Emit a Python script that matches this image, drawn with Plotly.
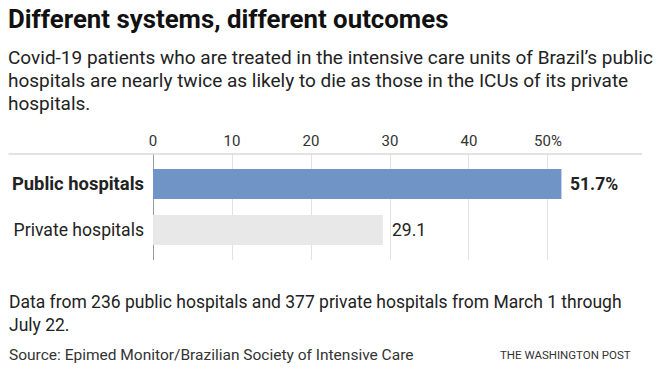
import plotly.graph_objects as go

categories = ["Public hospitals", "Private hospitals"]
values = [51.7, 29.1]
value_labels = ["<b>51.7%</b>", "29.1"]
tick_vals = [0, 10, 20, 30, 40, 50]
tick_text = ["0", "10", "20", "30", "40", "50%"]
bar_colors = ["#7094c6", "#e8e8e9"]

title = "Different systems, different outcomes"
subtitle = ["Covid-19 patients who are treated in the intensive care units of Brazil\u2019s public",
            "hospitals are nearly twice as likely to die as those in the ICUs of its private",
            "hospitals."]
note = ["Data from 236 public hospitals and 377 private hospitals from March 1 through",
        "July 22."]
source = "Source: Epimed Monitor/Brazilian Society of Intensive Care"
credit = "THE WASHINGTON POST"

FONT = "Roboto, Arial, sans-serif"
W, H = 669, 380
L, R, T, B = 148, 27, 154, 120
PW, PH = W - L - R, H - T - B

def px(x):
    return (x - L) / PW

def py(y):
    return (H - B - y) / PH

fig = go.Figure()
fig.add_trace(go.Bar(
    x=values, y=categories, orientation="h",
    marker=dict(color=bar_colors, line=dict(width=0)),
    width=0.65,
    hoverinfo="skip",
))

ticklabels = ['<span style="font-size:18.4px"><b>' + categories[0] + "</b></span>", categories[1]]

fig.update_layout(
    width=W, height=H,
    margin=dict(l=L, r=R, t=T, b=B, pad=0),
    paper_bgcolor="white", plot_bgcolor="white",
    showlegend=False,
    xaxis=dict(side="top", range=[0, 61.9], tickvals=tick_vals, ticktext=tick_text,
               showgrid=True, gridcolor="#e2e2e2", gridwidth=1,
               zeroline=True, zerolinecolor="#9a9a9a", zerolinewidth=1,
               showline=False, ticks="", ticklabelstandoff=4,
               tickfont=dict(family=FONT, size=15, color="#333"), fixedrange=True),
    yaxis=dict(type="category", range=[1.652, -0.652], tickvals=categories, ticktext=ticklabels,
               showgrid=False, zeroline=False, showline=False, ticks="",
               ticklabelstandoff=8,
               tickfont=dict(family=FONT, size=17.6, color="#222"), fixedrange=True),
    font=dict(family=FONT, color="#222"),
)

# top horizontal rule across the chart
fig.add_shape(type="line", xref="paper", yref="paper",
              x0=px(2), x1=px(642), y0=1, y1=1,
              line=dict(color="#d8d8d8", width=1.5))

ann = []
# value labels next to the bars
for cat, v, lab in zip(categories, values, value_labels):
    ann.append(dict(text=lab, x=v, y=cat, xref="x", yref="y", xanchor="left", yanchor="middle",
                    xshift=7, font=dict(family=FONT, size=17.5, color="#222"), showarrow=False))
ann.append(dict(text="<b>" + title + "</b>", x=px(0), y=py(18.5), xanchor="left", yanchor="middle",
                font=dict(family=FONT, size=25.8, color="#111")))
for i, line in enumerate(subtitle):
    ann.append(dict(text=line, x=px(0), y=py(57 + 23.3 * i), xanchor="left", yanchor="middle",
                    font=dict(family=FONT, size=19, color="#222")))
for i, line in enumerate(note):
    ann.append(dict(text=line, x=px(1), y=py(302 + 23 * i), xanchor="left", yanchor="middle",
                    font=dict(family=FONT, size=17.5, color="#222")))
ann.append(dict(text=source, x=px(1), y=py(355), xanchor="left", yanchor="middle",
                font=dict(family=FONT, size=15.5, color="#333")))
ann.append(dict(text=credit, x=px(633), y=py(355), xanchor="right", yanchor="middle",
                font=dict(family=FONT, size=11.5, color="#333")))
for a in ann:
    a.setdefault("xref", "paper")
    a.setdefault("yref", "paper")
    a["showarrow"] = False
fig.update_layout(annotations=ann)

fig.write_html(
    "out.html",
    config={"displayModeBar": False, "staticPlot": True},
    post_script=("document.body.style.margin='0';"
                 "var gd=document.getElementById('{plot_id}');"
                 "gd.style.position='absolute';gd.style.left='0px';gd.style.top='0px';"),
)
